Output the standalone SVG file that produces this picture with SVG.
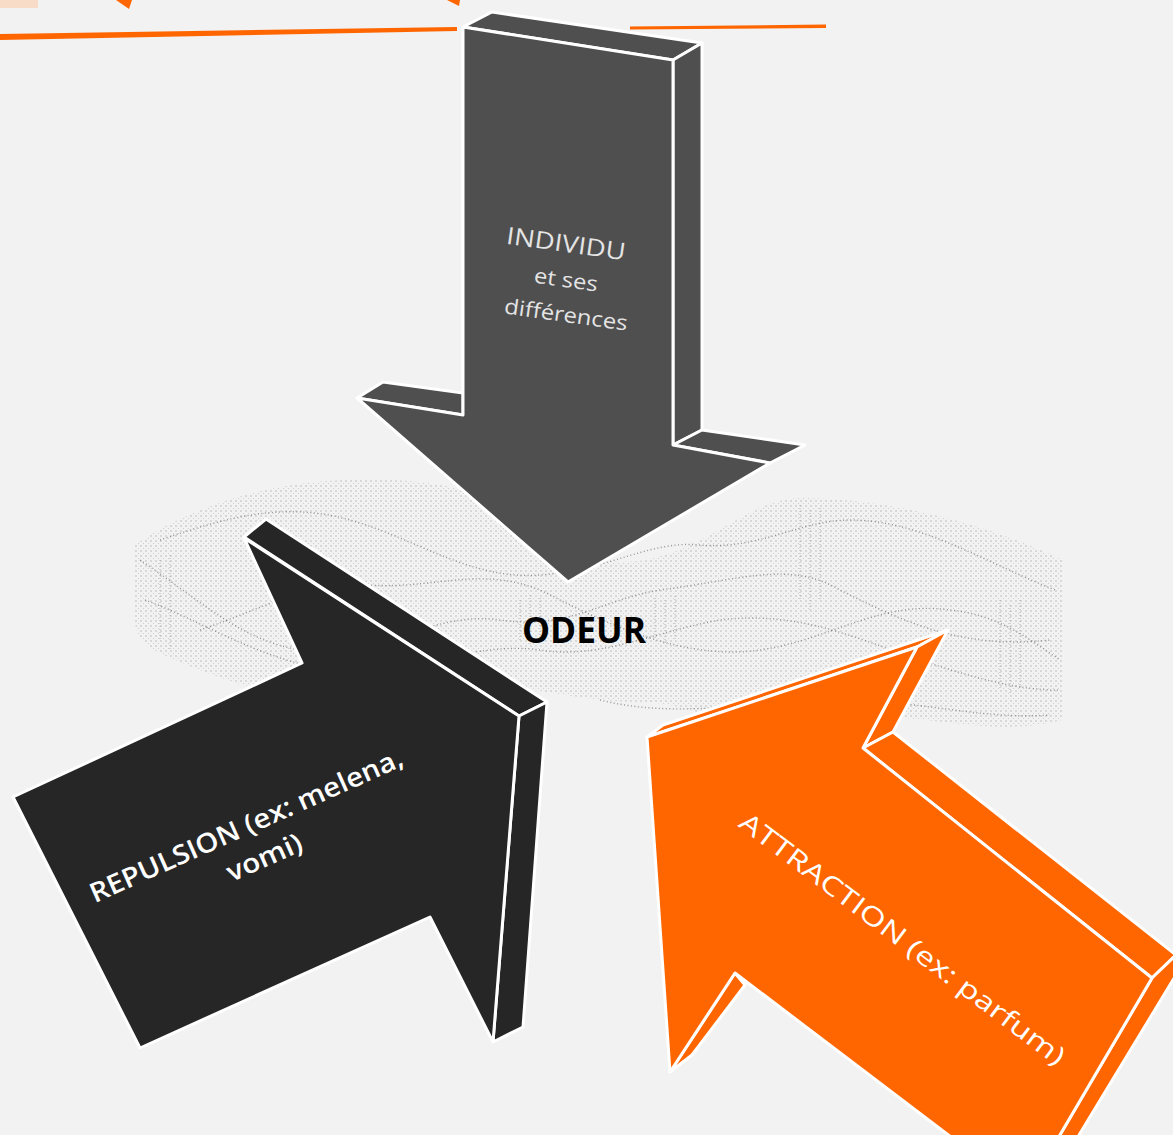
<svg xmlns="http://www.w3.org/2000/svg" width="1173" height="1135" viewBox="0 0 1173 1135">
<style>
.face{stroke:#ffffff;stroke-width:3;stroke-linejoin:round}
.gray{fill:#4f4f4f}
.black{fill:#262626}
.orange{fill:#ff6600}
.lbl{font-family:"Open Sans","Liberation Sans",sans-serif;font-weight:600;fill:#ffffff;text-anchor:middle}
.wave{fill:none;stroke:#555555;stroke-width:1.4;stroke-dasharray:1 2.5;opacity:.6}
.vdash{fill:none;stroke:#666666;stroke-width:1;stroke-dasharray:1 2;opacity:.45}
</style>
<defs>
<pattern id="dots" width="5" height="5" patternUnits="userSpaceOnUse">
<circle cx="1" cy="1" r="0.8" fill="#7a7a7a"/>
<circle cx="3.5" cy="3.5" r="0.6" fill="#a0a0a0"/>
</pattern>
</defs>
<rect width="1173" height="1135" fill="#f2f2f2"/>

<g id="decor">
<rect x="0" y="0" width="38" height="8" fill="#f8dcc8"/>
<polygon points="116,0 132,0 129,9" fill="#ff6600"/>
<polygon points="447,0 460,0 459,6" fill="#ff6600"/>
<polygon points="0,34 457,27 457,31 0,40" fill="#ff6600"/>
<polygon points="630,26.5 826,24.5 826,28 630,29.5" fill="#ff6600"/>
</g>

<g id="cloud">
<path d="M135,545 C200,500 300,470 420,482 C520,492 560,560 620,562 C700,562 740,500 800,498 C880,498 980,520 1062,560 L1062,720 C980,742 900,702 820,722 C740,742 700,702 640,702 C560,702 500,672 420,692 C330,712 250,692 180,662 C150,650 135,640 135,620 Z" fill="url(#dots)" opacity="0.5"/>
<path class="wave" d="M140,560 C200,600 240,640 300,650 C380,660 430,610 500,620 C570,630 600,600 660,590 C740,580 790,560 840,590 C900,620 960,650 1050,640"/>
<path class="wave" d="M145,600 C200,620 260,660 330,670 C400,680 470,640 540,650 C600,660 660,630 720,620 C800,610 860,640 920,660 C980,680 1020,690 1058,690"/>
<path class="wave" d="M160,540 C220,520 280,500 350,520 C420,540 470,580 540,575 C610,570 650,540 700,545 C760,550 800,520 850,520 C920,520 980,560 1055,590"/>
<path class="wave" d="M200,630 C260,610 310,580 370,585 C440,590 490,560 560,600 C620,630 690,660 760,650 C830,640 880,600 950,610 C1000,615 1030,640 1060,660"/>
<path class="wave" d="M600,700 C680,720 760,700 840,700 C920,700 980,720 1050,715"/>
<path class="vdash" d="M520,600 V640 M530,595 V645 M540,598 V640 M655,598 V640 M665,600 V645 M675,596 V640 M800,505 V600 M810,510 V610 M820,508 V600 M1000,600 V690 M1010,605 V695 M1020,600 V690 M160,560 V640 M170,555 V650"/>
</g>

<g id="node-individu">
<polygon class="face gray" points="463,27 492,12 702,43 673,60"/>
<polygon class="face gray" points="673,60 702,43 702,430 673,445"/>
<polygon class="face gray" points="357,398 383,382 463,393 463,415"/>
<polygon class="face gray" points="673,445 702,430 805,445 770,463"/>
<polygon class="face gray" points="463,27 673,60 673,445 770,463 568,582 357,398 463,415"/>
<text class="lbl" font-size="24" transform="translate(565,252) rotate(8)" textLength="120" lengthAdjust="spacingAndGlyphs" style="fill:#e4e4e4;font-weight:400">INDIVIDU</text>
<text class="lbl" font-size="21" transform="translate(565,287) rotate(8)" textLength="64" lengthAdjust="spacingAndGlyphs" style="fill:#e4e4e4;font-weight:400">et ses</text>
<text class="lbl" font-size="21" transform="translate(565,322) rotate(8)" textLength="124" lengthAdjust="spacingAndGlyphs" style="fill:#e4e4e4;font-weight:400">différences</text>
</g>

<g id="node-repulsion">
<polygon class="face black" points="244,537 266,519 547,702 519,716"/>
<polygon class="face black" points="519,716 547,702 523,1027 493,1042"/>
<polygon class="face black" points="244,538 519,716 493,1042 430,917 140,1048 13,797 302,663"/>
<text class="lbl" font-size="27" transform="translate(250,834) rotate(-24)" textLength="340" lengthAdjust="spacingAndGlyphs">REPULSION (ex: melena,</text>
<text class="lbl" font-size="27" transform="translate(268,866) rotate(-24)" textLength="80" lengthAdjust="spacingAndGlyphs">vomi)</text>
</g>

<g id="node-attraction">
<polygon class="face orange" points="647,737 663,725 948,630 917,647"/>
<polygon class="face orange" points="917,647 948,630 893,732 863,748"/>
<polygon class="face orange" points="863,748 893,732 1176,955 1152,978"/>
<polygon class="face orange" points="1152,978 1176,955 1176,975 1076,1140 1057,1140"/>
<polygon class="face orange" points="670,1072 692,1055 745,985 735,973"/>
<polygon class="face orange" points="647,737 917,647 863,748 1152,978 1057,1140 955,1140 735,973 670,1072"/>
<text class="lbl" font-size="26" transform="translate(897,946) rotate(37)" textLength="400" lengthAdjust="spacingAndGlyphs" style="font-weight:400">ATTRACTION (ex: parfum)</text>
</g>

<g id="node-odeur">
<text x="584" y="643" font-family="'Open Sans','Liberation Sans',sans-serif" font-weight="bold" font-size="35" fill="#000000" text-anchor="middle" textLength="124" lengthAdjust="spacingAndGlyphs">ODEUR</text>
</g>

<g id="connectors"/>
</svg>
